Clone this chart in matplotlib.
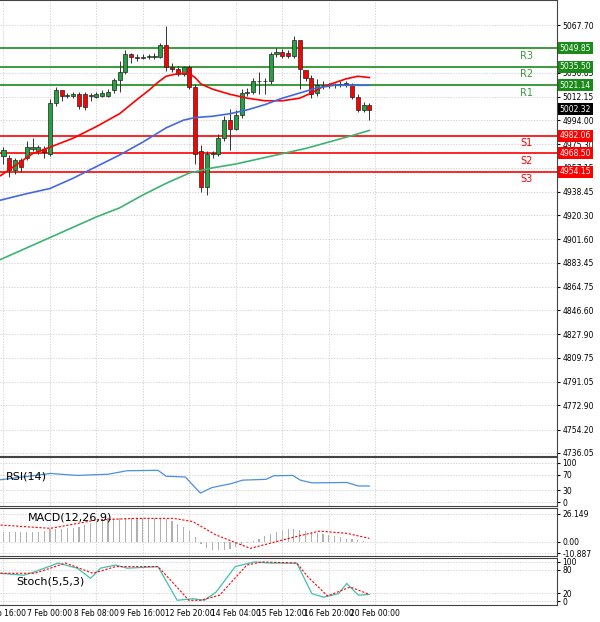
import matplotlib
matplotlib.use("Agg")
import matplotlib.pyplot as plt
import numpy as np

opens  = [4966,4965,4955,4963,4965,4972,4970,4972,4968,5007,5017,5013,5013,5014,5014,5013,5012,5013,5013,5017,
          5025,5031,5045,5043,5042,5043,5043,5043,5052,5035,5034,5030,5035,5020,4970,4942,4968,4968,4980,4994,
          4987,4998,5015,5016,5024,5024,5024,5045,5047,5046,5044,5056,5033,5027,5015,5021,5021,5021,5021,5022,
          5021,5012,5002,5006]
closes = [4971,4955,4963,4958,4973,4973,4973,4969,5007,5017,5013,5013,5014,5005,5004,5013,5014,5015,5016,5025,
          5031,5045,5043,5042,5043,5043,5043,5052,5035,5034,5030,5035,5020,4968,4942,4968,4968,4980,4994,4987,
          4998,5015,5016,5024,5024,5024,5045,5047,5044,5044,5056,5034,5027,5014,5021,5021,5021,5021,5022,5022,
          5012,5002,5006,5002]
highs  = [4973,4967,4965,4965,4978,4980,4975,4974,5010,5020,5016,5015,5016,5016,5016,5015,5016,5017,5018,5027,
          5040,5048,5046,5045,5045,5045,5046,5054,5067,5038,5036,5036,5037,5022,4975,4970,4970,4983,4997,5003,
          5002,5018,5019,5027,5031,5027,5047,5050,5049,5048,5059,5052,5030,5029,5026,5024,5023,5023,5024,5024,
          5023,5014,5008,5007]
lows   = [4960,4950,4952,4954,4963,4970,4968,4965,4966,5005,5009,5011,5011,5003,5002,5009,5011,5012,5012,5015,
          5016,5030,5038,5040,5041,5041,5041,5042,5032,5031,5028,5028,5018,4960,4938,4936,4965,4966,4978,4971,
          4986,4996,5013,5014,5014,5014,5022,5043,5042,5042,5042,5018,5024,5011,5013,5018,5019,5019,5020,5020,
          5010,5000,5000,4994]

ma_red_x  = [-0.5,5,8,12,16,20,23,25,26.5,28,30,32,33,34,36,39,42,45,48,51,53,55,57,59,61,63]
ma_red_y  = [4951,4968,4973,4980,4989,4999,5010,5017,5023,5028,5030,5030,5027,5022,5018,5014,5011,5009,5009,5011,5015,5020,5023,5026,5028,5027]
ma_blue_x = [-0.5,4,8,12,16,20,24,28,31,33,36,39,42,45,48,51,54,57,60,63]
ma_blue_y = [4932,4937,4941,4949,4958,4967,4977,4988,4994,4996,4997,4999,5002,5006,5011,5015,5019,5021,5021,5021]
ma_grn_x  = [-0.5,4,8,12,16,20,24,28,32,36,40,44,48,52,56,60,63]
ma_grn_y  = [4886,4895,4903,4911,4919,4926,4936,4945,4953,4957,4960,4964,4968,4972,4977,4982,4986]

res_levels = [5049.85,5035.50,5021.14]; res_names = ["R3","R2","R1"]
sup_levels = [4982.06,4968.50,4954.15]; sup_names = ["S1","S2","S3"]
last_price = 5002.32
price_ticks = [5067.70,5030.85,5012.15,4994.00,4975.30,4957.15,4938.45,4920.30,4901.60,4883.45,
               4864.75,4846.60,4827.90,4809.75,4791.05,4772.90,4754.20,4736.05]

rsi_x = [-0.5,8.1,12.7,18.0,21.3,26.6,28.0,31.3,33.9,35.9,39.2,41.2,45.2,46.5,49.8,51.1,53.1,59.1,61.1,63.0]
rsi_y = [57,73,68,71,80,81,66,64,23,37,47,56,58,67,68,56,49,50,41,41]

macd_hist = [9,9,9,9,9,9,9,10,12,12,12,13,13,14,16,18,20,21,22,22,
             22,22,22,22,22,22,22,22,21,20,17,14,10,4,-2,-6,-8,-8,-8,-7,
             -5,-3,-1,1,3,5,7,9,11,12,12,11,10,9,8,7,6,5,4,3,
             3,2,1,0]
sig_x = [-0.5,8.1,16.0,22.7,29.3,32.6,36.6,42.5,49.1,54.4,59.1,63.0]
sig_y = [15.7,12.6,20.5,22,22,19,6.3,-6.3,3.1,10,7.9,3.1]

st_k_x = [-0.5,3.5,5.4,9.4,12.7,15.0,16.7,19.3,21.3,26.6,29.9,32.6,34.6,36.6,39.9,43.2,45.8,50.5,53.1,55.1,57.7,59.1,61.1,63.0]
st_k_y = [71,66,75,97,84,58,84,92,84,88,2,6,2,23,88,100,97,97,19,10,19,45,15,17]
st_d_x = [-0.5,5.4,10.7,15.4,19.3,26.6,29.3,31.9,33.9,37.2,41.9,44.5,50.5,52.4,55.8,59.7,63.0]
st_d_y = [71,71,97,71,88,88,45,2,2,15,92,100,97,62,13,36,17]

xtick_pos = [0,8,16,24,32,40,48,56,64]
xtick_lab = ["6 Feb 16:00","7 Feb 00:00","8 Feb 08:00","9 Feb 16:00","12 Feb 20:00",
             "14 Feb 04:00","15 Feb 12:00","16 Feb 20:00","20 Feb 00:00"]

GREEN = "#1a8a1a"; RED = "#ff0000"
fig = plt.figure(figsize=(6, 6.22), dpi=100)
W = 557/600
def mk(top, bot):
    return fig.add_axes([0, 1-bot/622, W, (bot-top)/622])
ax = mk(0, 456); axr = mk(457, 506); axm = mk(508, 556); axs = mk(558, 605)
XL = (-0.6, 95.3)
for a in (ax, axr, axm, axs):
    a.set_xlim(*XL)
    a.yaxis.tick_right()
    a.tick_params(axis='y', labelsize=5.5, length=2, pad=2)
    a.tick_params(axis='x', length=0)
    a.set_xticks(xtick_pos)
    a.set_xticklabels([])
    a.grid(True, color="#c8c8c8", linestyle=(0,(2,2)), linewidth=0.5)
    for s in a.spines.values():
        s.set_color("#444444"); s.set_linewidth(0.8)
    a.spines['left'].set_visible(False)

ax.set_ylim(4733.7, 5087.1)
ax.set_yticks(price_ticks)
ax.set_yticklabels([f"{v:.2f}" for v in price_ticks])
x = np.arange(len(closes))
for i in x:
    o, c, h, l = opens[i], closes[i], highs[i], lows[i]
    col = "#26a043" if c >= o else RED
    ax.vlines(i, l, h, color="#333333", linewidth=0.7, zorder=3)
    ax.bar(i, max(abs(c-o), 0.4), bottom=min(o, c), width=0.7, color=col,
           edgecolor="#222222", linewidth=0.5, zorder=4)
ax.plot(ma_red_x, ma_red_y, color=RED, lw=1.2, zorder=5)
ax.plot(ma_blue_x, ma_blue_y, color="#4169e1", lw=1.2, zorder=5)
ax.plot(ma_grn_x, ma_grn_y, color="#3cb371", lw=1.2, zorder=5)
tr = ax.get_yaxis_transform()
def box(lv, fc):
    ax.text(1.005, lv, f"{lv:.2f}", transform=tr, fontsize=5.5, color="white", va='center', zorder=10,
            bbox=dict(boxstyle="square,pad=0.2", fc=fc, ec="none"), clip_on=False)
for lv, nm in zip(res_levels, res_names):
    ax.axhline(lv, color=GREEN, lw=1.2, zorder=2)
    ax.text(0.945, lv-6, nm, transform=tr, color="#3a9a3a", fontsize=7, ha='center', va='center')
    box(lv, GREEN)
for lv, nm in zip(sup_levels, sup_names):
    ax.axhline(lv, color=RED, lw=1.2, zorder=2)
    ax.text(0.945, lv-6, nm, transform=tr, color=RED, fontsize=7, ha='center', va='center')
    box(lv, RED)
box(last_price, "black")

axr.set_ylim(-10, 115); axr.set_yticks([0,30,70,100])
axr.plot(rsi_x, rsi_y, color="#4a90e2", lw=0.9)
axr.text(0.01, 0.6, "RSI(14)", transform=axr.transAxes, fontsize=8, va='center')

axm.set_ylim(-13.5, 31.8); axm.set_yticks([26.149, 0, -10.887])
axm.set_yticklabels(["26.149","0.00","-10.887"])
axm.bar(x, macd_hist, width=0.2, color="#b0b0b0")
axm.plot(sig_x, sig_y, color=RED, lw=0.8, linestyle=(0,(2,1.5)))
axm.text(0.05, 0.8, "MACD(12,26,9)", transform=axm.transAxes, fontsize=8, va='center')

axs.set_ylim(-10, 110); axs.set_yticks([0,20,80,100])
axs.plot(st_k_x, st_k_y, color="#40c0b0", lw=0.9)
axs.plot(st_d_x, st_d_y, color=RED, lw=0.8, linestyle=(0,(2,1.5)))
axs.text(0.03, 0.5, "Stoch(5,5,3)", transform=axs.transAxes, fontsize=8, va='center')
axs.set_xticklabels(xtick_lab, fontsize=5.5)
axs.tick_params(axis='x', pad=3)

fig.savefig("out.png", dpi=100)
